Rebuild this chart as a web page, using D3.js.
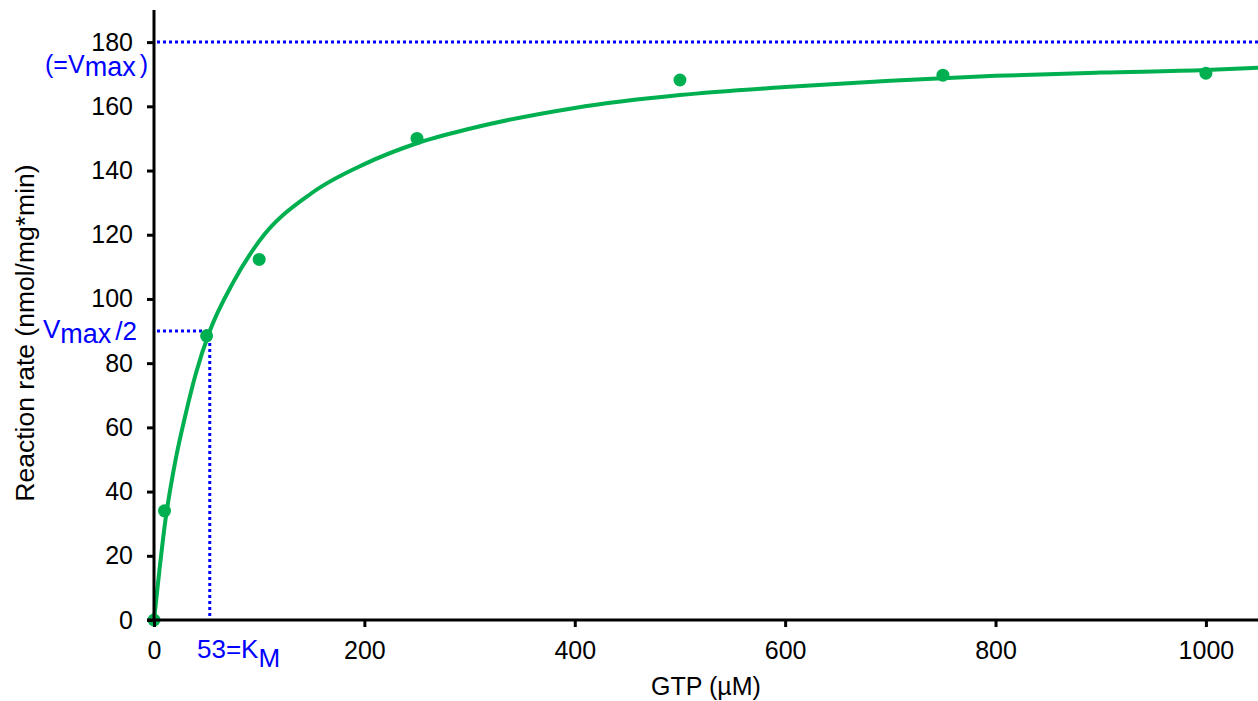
<!DOCTYPE html>
<html>
<head>
  <meta charset="utf-8">
  <style>
    html, body { margin: 0; overflow: hidden; background: #fff; }
    svg { display: block; }
    text { font-family: "Liberation Sans", Arial, sans-serif; }
    .axis path, .axis line { stroke: #000; stroke-width: 3px; }
    .axis text { font-size: 25px; fill: #000; }
    .guide { stroke: #0000ff; stroke-width: 3px; stroke-dasharray: 3 3; fill: none; }
    .blue { fill: #0000ff; font-size: 25px; }
  </style>
  <script src="https://d3js.org/d3.v7.min.js"></script>
</head>
<body>
  <svg id="svg" width="1258" height="701"></svg>
  <script>
    // measured GTP concentrations (µM) and rates
    var gtp = [0, 10, 50, 100, 250, 500, 750, 1000];
    var rate = [0, 34, 88.5, 112.3, 150, 168.2, 169.7, 170.3];

    // fitted curve
    var fitX = [0, 5, 10, 20, 30, 40, 53, 75, 100, 150, 200, 250, 300, 400, 500, 600, 700, 800, 900, 1000, 1050];
    var fitY = [0, 15, 29, 49, 64, 77, 90, 105, 118, 133, 142, 148.5, 153, 159.5, 163.5, 166, 168, 169.5, 170.5, 171.3, 172];

    var vmax = 180, km = 53;
    var xTicks = [0, 200, 400, 600, 800, 1000];
    var yTicks = [0, 20, 40, 60, 80, 100, 120, 140, 160, 180];

    var W = 1258, H = 701;
    var svg = d3.select("#svg");

    var x = d3.scaleLinear().domain([0, 1050]).range([154, 1258.5]);
    var y = d3.scaleLinear().domain([0, 190]).range([620, 10]);

    // guide lines
    svg.append("line").attr("class", "guide")
      .attr("x1", x(0) + 3).attr("x2", W).attr("y1", y(vmax)).attr("y2", y(vmax));
    svg.append("line").attr("class", "guide")
      .attr("x1", x(0) + 3).attr("x2", x(km)).attr("y1", y(vmax / 2)).attr("y2", y(vmax / 2));
    svg.append("line").attr("class", "guide")
      .attr("x1", x(km)).attr("x2", x(km)).attr("y1", y(vmax / 2)).attr("y2", y(0));

    // fit curve
    var line = d3.line()
      .x(function(d, i) { return x(fitX[i]); })
      .y(function(d) { return y(d); })
      .curve(d3.curveMonotoneX);
    svg.append("path")
      .attr("d", line(fitY))
      .attr("fill", "none")
      .attr("stroke", "#00b050")
      .attr("stroke-width", 4);

    svg.append("g").selectAll("circle")
      .data(gtp).enter().append("circle")
      .attr("cx", function(d) { return x(d); })
      .attr("cy", function(d, i) { return y(rate[i]); })
      .attr("r", 6.5)
      .attr("fill", "#00b050");

    // axes
    var xAxis = d3.axisBottom(x).tickValues(xTicks).tickFormat(d3.format("d"))
      .tickSize(7).tickSizeOuter(0).tickPadding(14);
    var yAxis = d3.axisLeft(y).tickValues(yTicks).tickFormat(d3.format("d"))
      .tickSize(7).tickSizeOuter(0).tickPadding(14);

    var gx = svg.append("g").attr("class", "axis").attr("transform", "translate(0," + y(0) + ")").call(xAxis);
    gx.select(".domain").attr("d", "M" + (x(0) - 7) + ",0H" + W);
    gx.selectAll("text").attr("font-family", null);

    var gy = svg.append("g").attr("class", "axis").attr("transform", "translate(" + x(0) + ",0)").call(yAxis);
    gy.select(".domain").attr("d", "M0," + y(0) + "V" + y(190));
    gy.selectAll("text").attr("font-family", null);

    // axis titles
    svg.append("text")
      .attr("x", 706).attr("y", 695)
      .attr("text-anchor", "middle")
      .style("font-size", "25px")
      .text("GTP (\u00b5M)");
    svg.append("text")
      .attr("transform", "translate(34,333) rotate(-90)")
      .attr("text-anchor", "middle")
      .style("font-size", "26.5px")
      .text("Reaction rate (nmol/mg*min)");

    // blue annotations
    var t1 = svg.append("text").attr("class", "blue")
      .attr("x", 148).attr("y", 73).attr("text-anchor", "end");
    t1.append("tspan").style("font-size", "25px").text("(=V");
    t1.append("tspan").attr("dy", 3).style("font-size", "27px").text("max");
    t1.append("tspan").attr("dy", -3).attr("dx", 4).style("font-size", "25px").text(")");

    var t2 = svg.append("text").attr("class", "blue")
      .attr("x", 137).attr("y", 338).attr("text-anchor", "end");
    t2.append("tspan").style("font-size", "26px").text("V");
    t2.append("tspan").attr("dy", 5).style("font-size", "27px").text("max");
    t2.append("tspan").attr("dy", -3).attr("dx", 4).style("font-size", "26px").text("/2");

    var t3 = svg.append("text").attr("class", "blue")
      .attr("x", 197).attr("y", 658).style("font-size", "26px");
    t3.append("tspan").text("53=K");
    t3.append("tspan").attr("dy", 9).text("M");
  </script>
</body>
</html>
